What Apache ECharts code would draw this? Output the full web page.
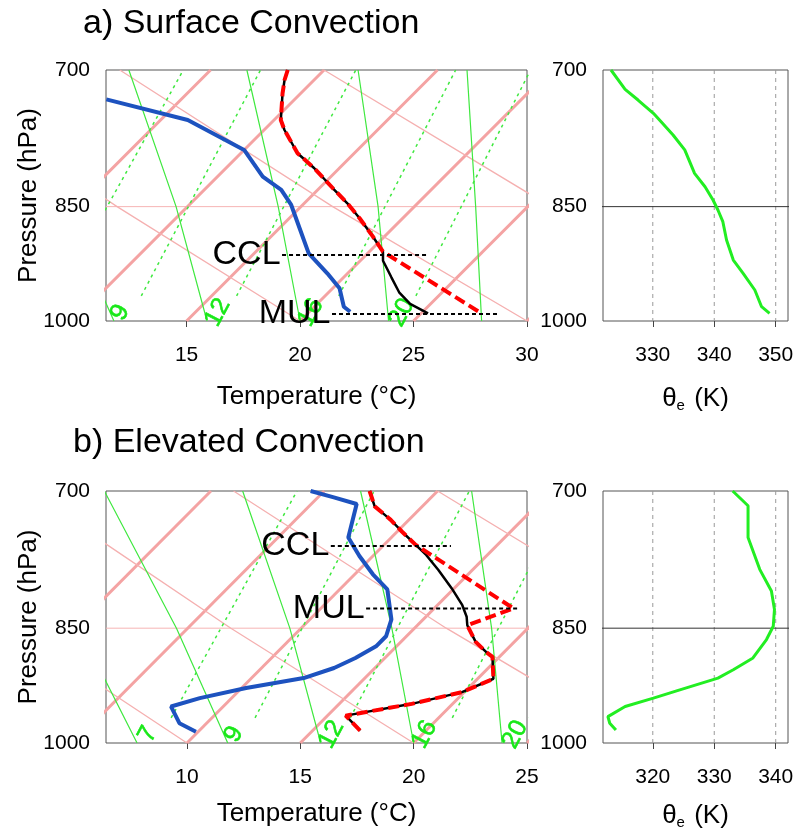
<!DOCTYPE html>
<html>
<head>
<meta charset="utf-8">
<script src="https://cdn.jsdelivr.net/npm/echarts@6/dist/echarts.min.js"></script>
<style>
  html, body { margin: 0; padding: 0; background: #fff; }
  #chart { width: 797px; height: 833px; }
</style>
</head>
<body>
<div id="chart"></div>
<script>
var FONT = 'Liberation Sans, Arial, Helvetica, sans-serif';
// skew of the diagram: deg C of x shift per unit of ln(1000/p)
var SKEW = 31.0;

var pressureTicks = [700, 850, 1000];
var tempTicksA = [15, 20, 25, 30];
var tempTicksB = [10, 15, 20, 25];
var thetaTicksA = [330, 340, 350];
var thetaTicksB = [320, 330, 340];

// diagram background (temperatures in deg C)
var isotherms = [-10, -5, 0, 5, 10, 15, 20, 25, 30, 35];
var adiabatP = [1000, 850, 700];
var dryAdiabats = [
  [10, -2.7, -17.1],
  [20, 6.9, -8.1],
  [30, 16.4, 1.0],
  [40, 26.0, 10.0],
  [50, 35.5, 19.1]
];
var moistAdiabats = [
  [7.8, 0.2, -9.5],
  [11.8, 4.5, -4.7],
  [15.9, 9.5, 1.4],
  [20.0, 14.0, 6.6],
  [23.9, 18.4, 11.5],
  [28.0, 22.7, 16.3]
];
var mixP = [965, 700];
var mixRatios = [7, 9, 12, 16, 20];
var mixLines = [[8.2, 3.8], [11.9, 7.2], [16.1, 11.4], [20.6, 15.8], [24.0, 19.1]];
var mixLabelT = [7.9, 11.7, 16.0, 20.1, 24.1];
var mixLabelP = 988;

// a) surface convection
var aDewP = [729.8, 751.6, 784.2, 814.6, 830.1, 848.0, 878.7, 908.3, 934.5, 954.6, 979.9, 986.9];
var aDewT = [1.7, 6.2, 10.0, 12.0, 13.4, 14.5, 16.0, 17.4, 19.1, 20.3, 21.3, 21.8];
var aTempP = [700, 710, 723.6, 751.6, 762.3, 787.9, 804.9, 828.1, 846.0, 864.2, 887.1, 906.2, 917.9, 939.8, 960.0, 976.1, 989.1];
var aTempT = [8.4, 8.7, 9.2, 10.3, 10.9, 12.5, 13.9, 15.6, 16.9, 18.1, 19.5, 20.6, 21.0, 22.1, 23.1, 24.1, 25.3];
var aParcelP = [700, 710, 723.6, 751.6, 762.3, 787.9, 804.9, 828.1, 846.0, 864.2, 887.1, 906.2, 989.7];
var aParcelT = [8.4, 8.7, 9.2, 10.3, 10.9, 12.5, 13.9, 15.6, 16.9, 18.1, 19.5, 20.6, 27.7];
var aCCL = [910.5, 16.3, 22.7];   // pressure, start T, end T
var aMUL = [990.1, 21.1, 28.5];
var aThetaP = [700, 719.5, 730.5, 744.4, 751.6, 767.7, 784.2, 810.7, 826.3, 842.0, 854.1, 868.4, 891.3, 917.0, 934.5, 956.9, 979.9, 989.1];
var aTheta = [323.2, 325.5, 327.6, 330.1, 331.1, 333.3, 335.2, 336.8, 338.5, 339.8, 340.6, 341.4, 342.0, 343.1, 344.7, 346.6, 347.7, 349.0];

// b) elevated convection
var bDewP = [700, 706.3, 713.0, 747.6, 767.4, 787.6, 804.6, 816.1, 839.6, 859.8, 872.1, 886.6, 899.3, 912.2, 925.2, 938.5, 949.7, 972.4, 984.1];
var bDewT = [4.4, 5.7, 7.0, 8.1, 9.4, 10.8, 12.1, 12.6, 13.6, 14.1, 14.1, 13.7, 13.2, 12.3, 10.2, 8.6, 7.7, 8.8, 9.9];
var bTempP = [700, 715.4, 729.2, 741.3, 755.5, 766.3, 782.8, 803.5, 822.8, 836.4, 846.5, 866.7, 879.1, 885.3, 913.1, 930.5, 946.1, 962.0, 982.7];
var bTempT = [7.0, 7.9, 9.2, 10.2, 11.4, 12.3, 13.5, 14.9, 16.1, 16.8, 17.2, 18.3, 19.2, 19.7, 20.7, 19.9, 18.2, 15.8, 17.1];
var bParcelP = [700, 715.4, 729.2, 741.3, 755.5, 826.6, 846.5, 866.7, 879.1, 885.3, 913.1, 930.5, 946.1, 962.0, 982.7];
var bParcelT = [7.0, 7.9, 9.2, 10.2, 11.4, 18.5, 17.2, 18.3, 19.2, 19.7, 20.7, 19.9, 18.2, 15.8, 17.1];
var bCCL = [756.6, 7.7, 13.0];
var bMUL = [826.6, 12.0, 18.7];
var bThetaP = [700, 714.8, 747.6, 782.1, 806.5, 827.8, 847.7, 863.8, 886.6, 901.5, 912.2, 927.5, 938.5, 949.7, 963.3, 972.4, 981.7];
var bTheta = [333.0, 335.5, 335.5, 337.4, 339.3, 339.8, 339.6, 338.5, 336.3, 333.1, 330.6, 324.4, 320.1, 315.5, 312.7, 313.0, 314.0];

var LNP0 = Math.log(700), LNP1 = Math.log(1000);

function sk(t, p) {
  return [t + SKEW * Math.log(1000 / p), Math.log(p)];
}
function pts(ts, ps) {
  return ts.map(function (t, i) { return sk(t, ps[i]); });
}
function line(g, data, color, width, type, z) {
  return {
    type: 'line', xAxisIndex: g, yAxisIndex: g, data: data, symbol: 'none',
    silent: true, z: z || 2, animation: false,
    lineStyle: { color: color, width: width, type: type || 'solid' }
  };
}

function mainSeries(g, xmin, xmax, dewT, dewP, tempT, tempP, parT, parP, ccl, mul) {
  var s = [];
  // 850 hPa line
  s.push(line(g, [[xmin, Math.log(850)], [xmax, Math.log(850)]], '#f6b4b4', 1, 'solid', 1));
  isotherms.forEach(function (t) {
    s.push(line(g, [sk(t, 1000), sk(t, 700)], '#f4a3a3', 3, 'solid', 1));
  });
  dryAdiabats.forEach(function (r) {
    s.push(line(g, pts(r, adiabatP), '#f5b0b0', 1.3, 'solid', 1));
  });
  moistAdiabats.forEach(function (r) {
    s.push(line(g, pts(r, adiabatP), '#3fe83f', 1.2, 'solid', 1));
  });
  mixLines.forEach(function (r) {
    s.push(line(g, pts(r, mixP), '#3fe83f', 1.5, [3, 4], 1));
  });
  var labs = [];
  mixRatios.forEach(function (w, i) {
    var v = sk(mixLabelT[i], mixLabelP);
    if (v[0] > xmin + 0.2 && v[0] < xmax + 0.5) labs.push({ value: v, name: String(w) });
  });
  s.push({
    type: 'scatter', xAxisIndex: g, yAxisIndex: g, data: labs, symbolSize: 1, silent: true, z: 3,
    itemStyle: { color: 'rgba(0,0,0,0)' },
    label: { show: true, position: 'inside', rotate: 62, color: '#18e818', fontSize: 25,
      opacity: 1, textBorderWidth: 0.6, textBorderColor: '#18e818',
      fontFamily: FONT, formatter: function (p) { return p.name; } }
  });
  // profiles
  s.push(line(g, pts(dewT, dewP), '#1d52bf', 4, 'solid', 5));
  s.push(line(g, pts(tempT, tempP), '#000', 2.5, 'solid', 6));
  s.push(line(g, pts(parT, parP), '#ff0000', 4, [11, 5], 7));
  // CCL / MUL levels
  [[ccl, 'CCL'], [mul, 'MUL']].forEach(function (c) {
    var lv = c[0];
    s.push(line(g, [sk(lv[1], lv[0]), sk(lv[2], lv[0])], '#000', 2, [4, 3], 8));
    s.push({
      type: 'scatter', xAxisIndex: g, yAxisIndex: g, data: [sk(lv[1], lv[0])], symbolSize: 1,
      silent: true, z: 9, itemStyle: { color: 'rgba(0,0,0,0)' },
      label: { show: true, position: 'left', distance: 1, formatter: c[1], fontSize: 34,
        color: '#000', opacity: 1, textBorderWidth: 0, fontFamily: FONT }
    });
  });
  return s;
}

function thetaSeries(g, ticks, th, thP) {
  var s = [];
  ticks.forEach(function (t) {
    s.push(line(g, [[t, LNP0], [t, LNP1]], '#9a9a9a', 1, [4, 4], 1));
  });
  s.push(line(g, [[0, Math.log(850)], [1000, Math.log(850)]], '#333', 1, 'solid', 2));
  s.push(line(g, th.map(function (v, i) { return [v, Math.log(thP[i])]; }), '#22ee22', 3, 'solid', 5));
  return s;
}

function xAx(g, min, max, ticks, name, gap) {
  return {
    gridIndex: g, type: 'value', min: min, max: max,
    axisLine: { show: false }, splitLine: { show: false },
    axisTick: { show: true, customValues: ticks, length: 6, lineStyle: { color: '#444' } },
    axisLabel: { customValues: ticks, fontSize: 21, color: '#000', margin: 24, fontFamily: FONT },
    name: name, nameLocation: 'middle', nameGap: gap,
    nameTextStyle: {
      fontSize: 26, color: '#000', fontFamily: FONT,
      rich: { sub: { fontSize: 15, verticalAlign: 'bottom', color: '#000', fontFamily: FONT, padding: [14, 2, 0, 0] } }
    }
  };
}
function yAx(g, name) {
  var lp = pressureTicks.map(function (p) { return Math.log(p); });
  return {
    gridIndex: g, type: 'value', inverse: true, min: LNP0, max: LNP1,
    axisLine: { show: false }, splitLine: { show: false }, axisTick: { show: false },
    axisLabel: { customValues: lp, fontSize: 21, color: '#000', margin: 16, fontFamily: FONT,
      formatter: function (v) { return Math.round(Math.exp(v)); } },
    name: name || '', nameLocation: 'middle', nameGap: 64, nameRotate: 90,
    nameMoveOverlap: false,
    nameTextStyle: { fontSize: 26, color: '#000', fontFamily: FONT }
  };
}

var gridStyle = { show: true, borderColor: '#555', borderWidth: 1, backgroundColor: 'transparent' };
function grid(l, t, w, h) {
  return Object.assign({ left: l, top: t, width: w, height: h }, gridStyle);
}

var series = []
  .concat(mainSeries(0, 11.45, 30, aDewT, aDewP, aTempT, aTempP, aParcelT, aParcelP, aCCL, aMUL))
  .concat(thetaSeries(1, thetaTicksA, aTheta, aThetaP))
  .concat(mainSeries(2, 6.43, 25, bDewT, bDewP, bTempT, bTempP, bParcelT, bParcelP, bCCL, bMUL))
  .concat(thetaSeries(3, thetaTicksB, bTheta, bThetaP));

var option = {
  animation: false,
  backgroundColor: '#fff',
  textStyle: { fontFamily: FONT },
  title: [
    { text: 'a) Surface Convection', left: 78, top: 2,
      textStyle: { fontSize: 34, fontWeight: 'normal', color: '#000', fontFamily: FONT } },
    { text: 'b) Elevated Convection', left: 68, top: 421,
      textStyle: { fontSize: 34, fontWeight: 'normal', color: '#000', fontFamily: FONT } }
  ],
  grid: [grid(106, 70, 421, 251), grid(603, 70, 185, 251), grid(106, 491, 421, 252), grid(603, 491, 185, 252)],
  xAxis: [
    xAx(0, 11.45, 30, tempTicksA, 'Temperature (°C)', 63),
    xAx(1, 321.9, 352, thetaTicksA, 'θ{sub|e} (K)', 63),
    xAx(2, 6.43, 25, tempTicksB, 'Temperature (°C)', 58),
    xAx(3, 311.9, 342, thetaTicksB, 'θ{sub|e} (K)', 58)
  ],
  yAxis: [yAx(0, 'Pressure (hPa)'), yAx(1), yAx(2, 'Pressure (hPa)'), yAx(3)],
  series: series
};

var chart = echarts.init(document.getElementById('chart'), null, { renderer: 'canvas' });
chart.setOption(option);
</script>
</body>
</html>
